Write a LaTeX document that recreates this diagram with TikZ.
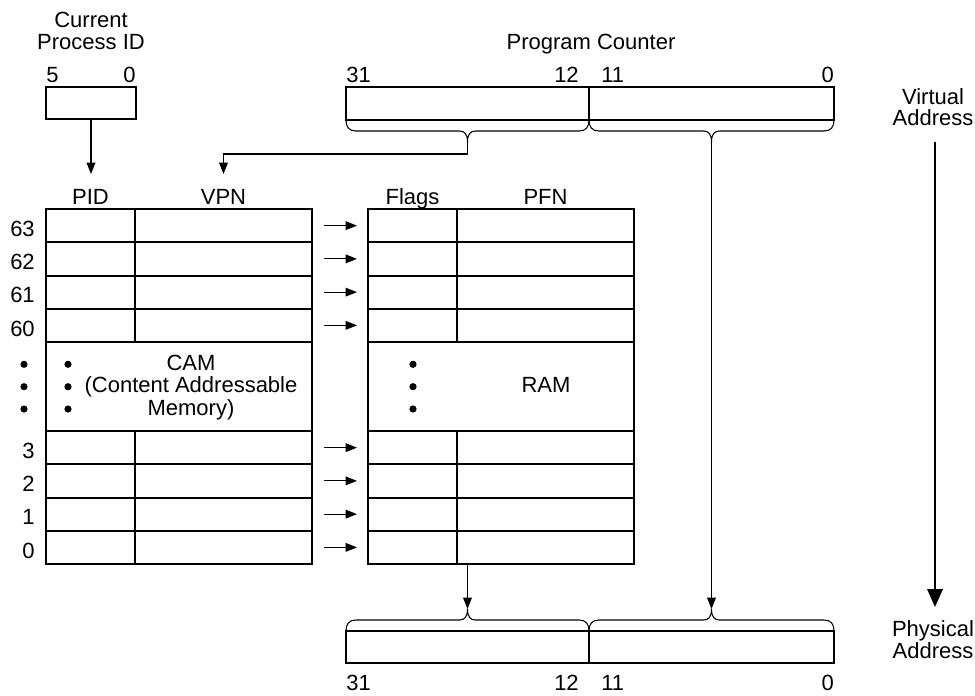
\documentclass[tikz,border=0pt]{standalone}
\usepackage{fontspec}
\setmainfont{Liberation Sans}
\usetikzlibrary{arrows.meta}
\newcommand{\hbrace}[4]{% #1 left x, #2 right x, #3 y of ends, #4 sign (1 down, -1 up)
  \pgfmathsetmacro{\brM}{(#1+#2)/2}%
  \pgfmathsetmacro{\brA}{#3+(#4)*7}%
  \pgfmathsetmacro{\brB}{#3+(#4)*11}%
  \pgfmathsetmacro{\brC}{#3+(#4)*14}%
  \pgfmathsetmacro{\brD}{#3+(#4)*22}%
  \draw[bracel] (#1,#3) .. controls (#1,\brA) and (#1+3,\brB) .. (#1+10,\brB)
    -- (\brM-8,\brB) .. controls (\brM-3,\brB) and (\brM,\brC) .. (\brM,\brD)
    .. controls (\brM,\brC) and (\brM+3,\brB) .. (\brM+8,\brB)
    -- (#2-10,\brB) .. controls (#2-3,\brB) and (#2,\brA) .. (#2,#3);%
}
\begin{document}
\begin{tikzpicture}[x=0.75pt,y=-0.75pt,
  font=\fontsize{16.5}{20}\selectfont,
  cell/.style={draw, line width=1.5pt, anchor=north west, inner sep=0pt, outer sep=0pt},
  sz/.style 2 args={minimum width=#1*0.75pt, minimum height=#2*0.75pt},
  lbl/.style={inner sep=0pt, anchor=base},
  arr/.style={line width=0.9pt, -{Triangle[length=8.5pt,width=6.5pt]}},
  bracel/.style={line width=0.8pt},
  bigarr/.style={line width=1.7pt, -{Triangle[length=13.5pt,width=11.5pt]}},
  dot/.style={fill, circle, inner sep=0pt, minimum size=5.4pt}]
\useasboundingbox (0,0) rectangle (975,696);

% Current process ID
\node[lbl] (cpidt1) at (91,27) {Current};
\node[lbl] (cpidt2) at (91,49) {Process ID};
\node[lbl, anchor=base west] (cpid5) at (46,82) {5};
\node[lbl, anchor=base east] (cpid0) at (136,82) {0};
\node[cell, sz={90}{32}] (cpid) at (46,87) {};

% Program counter
\node[lbl] (pct) at (591,49) {Program Counter};
\node[lbl, anchor=base west] (pc31) at (346,82) {31};
\node[lbl, anchor=base east] (pc12) at (579,82) {12};
\node[lbl, anchor=base west] (pc11) at (601,82) {11};
\node[lbl, anchor=base east] (pc0) at (834,82) {0};
\node[cell, sz={243}{33}] (pcH) at (346,87) {};
\node[cell, sz={245}{33}] (pcL) at (589,87) {};
\hbrace{346}{589}{120}{1}
\hbrace{589}{834}{120}{1}
\coordinate (pcHtip) at (467.5,142);
\coordinate (pcLtip) at (711.5,142);

% headers
\node[lbl] (hpid) at (90.5,204) {PID};
\node[lbl] (hvpn) at (223.5,204) {VPN};
\node[lbl] (hflg) at (412.5,204) {Flags};
\node[lbl] (hpfn) at (545.5,204) {PFN};

% table rows
\foreach \r/\y in {63/209, 62/242.25, 61/275.5, 60/308.75, 3/431, 2/464.25, 1/497.5, 0/530.75} {
  \node[cell, sz={89}{33.25}] (pid\r) at (46,\y) {};
  \node[cell, sz={177}{33.25}] (vpn\r) at (135,\y) {};
  \node[cell, sz={89}{33.25}] (flg\r) at (368,\y) {};
  \node[cell, sz={177}{33.25}] (pfn\r) at (457,\y) {};
  \node[lbl, anchor=base east] (num\r) at (35,\y+27.25) {\r};
  \draw[arr, shorten <=9pt, shorten >=8.25pt] (vpn\r.east) -- (flg\r.west);
}

% middle sections
\node[cell, sz={266}{89}] (cam) at (46,342) {};
\node[cell, sz={266}{89}] (ram) at (368,342) {};
\node[lbl] (camt1) at (191,370) {CAM};
\node[lbl] (camt2) at (191,392.5) {(Content Addressable};
\node[lbl] (camt3) at (191,415) {Memory)};
\node[lbl] (ramt) at (546,392) {RAM};
\foreach \i/\yy in {1/364.3, 2/386.7, 3/409} {
  \node[dot] (ldot\i) at (24,\yy) {};
  \node[dot] (cdot\i) at (68,\yy) {};
  \node[dot] (rdot\i) at (413,\yy) {};
}

% connectors into table
\coordinate (pidin) at (91,174);
\coordinate (vpnin) at (223.5,174);
\draw[arr] (cpid.south) -- (pidin);
\draw[arr] (pcHtip) -- ++(0,12) -| (vpnin);

% physical address
\node[cell, sz={243}{32}] (paH) at (346,631) {};
\node[cell, sz={245}{32}] (paL) at (589,631) {};
\hbrace{346}{589}{631}{-1}
\hbrace{589}{834}{631}{-1}
\coordinate (paHtip) at (467.5,609);
\coordinate (paLtip) at (711.5,609);
\draw[arr] (pfn0.south -| paHtip) -- (paHtip);
\draw[arr] (pcLtip) -- (paLtip);
\node[lbl, anchor=base west] (pa31) at (346,690) {31};
\node[lbl, anchor=base east] (pa12) at (579,690) {12};
\node[lbl, anchor=base west] (pa11) at (601,690) {11};
\node[lbl, anchor=base east] (pa0) at (834,690) {0};

% right side
\node[lbl] (vat1) at (933,104) {Virtual};
\node[lbl] (vat2) at (933,125) {Address};
\node[lbl] (phat1) at (933,636) {Physical};
\node[lbl] (phat2) at (933,658) {Address};
\coordinate (vstart) at (935,142);
\coordinate (vend) at (935,607);
\draw[bigarr] (vstart) -- (vend);
\end{tikzpicture}
\end{document}
